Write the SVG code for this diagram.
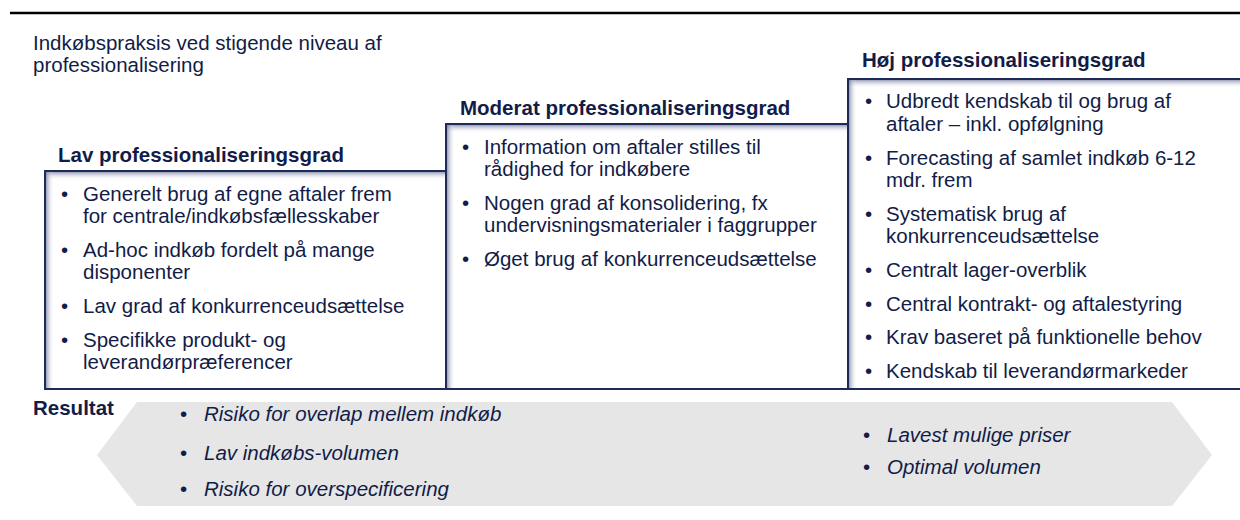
<svg xmlns="http://www.w3.org/2000/svg" width="1240" height="520" viewBox="0 0 1240 520">
<defs>
<linearGradient id="gTop" x1="0" y1="0" x2="0" y2="1">
<stop offset="0" stop-color="#5d6790" stop-opacity="0.8"/>
<stop offset="1" stop-color="#ffffff" stop-opacity="0"/>
</linearGradient>
<linearGradient id="gLeft" x1="0" y1="0" x2="1" y2="0">
<stop offset="0" stop-color="#5d6790" stop-opacity="0.8"/>
<stop offset="1" stop-color="#ffffff" stop-opacity="0"/>
</linearGradient>
</defs>
<style>
text{font-family:"Liberation Sans",Arial,sans-serif;fill:#121c48;font-size:20.5px}
.t{font-weight:bold}
.i{font-style:italic}
.box{fill:#ffffff}
.edge{fill:none;stroke:#1e2a58;stroke-width:2}
.st{fill:url(#gTop)}
.sl{fill:url(#gLeft)}
</style>
<line x1="10" y1="13" x2="1240" y2="13" stroke="#000" stroke-width="2.5"/>
<g id="header">
<text x="33" y="50">Indkøbspraksis ved stigende niveau af</text>
<text x="33" y="72">professionalisering</text>
</g>
<g id="lav">
<rect class="box" x="45" y="171" width="401" height="218"/>
<rect class="st" x="45" y="171" width="401" height="9"/>
<rect class="sl" x="45" y="171" width="9" height="218"/>
<rect class="edge" x="45" y="171" width="401" height="218"/>
<text class="t" x="58" y="162">Lav professionaliseringsgrad</text>
<text x="61" y="201">•</text><text x="83" y="201">Generelt brug af egne aftaler frem</text>
<text x="83" y="223">for centrale/indkøbsfællesskaber</text>
<text x="61" y="257">•</text><text x="83" y="257">Ad-hoc indkøb fordelt på mange</text>
<text x="83" y="279">disponenter</text>
<text x="61" y="313">•</text><text x="83" y="313">Lav grad af konkurrenceudsættelse</text>
<text x="61" y="347">•</text><text x="83" y="347">Specifikke produkt- og</text>
<text x="83" y="369">leverandørpræferencer</text>
</g>
<g id="moderat">
<rect class="box" x="446" y="124" width="402" height="265"/>
<rect class="st" x="446" y="124" width="402" height="9"/>
<rect class="sl" x="446" y="124" width="9" height="265"/>
<rect class="edge" x="446" y="124" width="402" height="265"/>
<text class="t" x="460" y="115">Moderat professionaliseringsgrad</text>
<text x="462" y="154">•</text><text x="484" y="154">Information om aftaler stilles til</text>
<text x="484" y="176">rådighed for indkøbere</text>
<text x="462" y="210">•</text><text x="484" y="210">Nogen grad af konsolidering, fx</text>
<text x="484" y="232">undervisningsmaterialer i faggrupper</text>
<text x="462" y="266">•</text><text x="484" y="266">Øget brug af konkurrenceudsættelse</text>
</g>
<g id="hoej">
<rect class="box" x="848" y="79" width="400" height="310"/>
<rect class="st" x="848" y="79" width="400" height="9"/>
<rect class="sl" x="848" y="79" width="9" height="310"/>
<rect class="edge" x="848" y="79" width="400" height="310"/>
<text class="t" x="862" y="67">Høj professionaliseringsgrad</text>
<text x="865" y="108">•</text><text x="886" y="108">Udbredt kendskab til og brug af</text>
<text x="886" y="131">aftaler – inkl. opfølgning</text>
<text x="865" y="165">•</text><text x="886" y="165">Forecasting af samlet indkøb 6-12</text>
<text x="886" y="187">mdr. frem</text>
<text x="865" y="221">•</text><text x="886" y="221">Systematisk brug af</text>
<text x="886" y="243">konkurrenceudsættelse</text>
<text x="865" y="277">•</text><text x="886" y="277">Centralt lager-overblik</text>
<text x="865" y="311">•</text><text x="886" y="311">Central kontrakt- og aftalestyring</text>
<text x="865" y="344">•</text><text x="886" y="344">Krav baseret på funktionelle behov</text>
<text x="865" y="378">•</text><text x="886" y="378">Kendskab til leverandørmarkeder</text>
</g>
<g id="resultat">
<polygon points="137,402 1172,402 1212,455 1172,506 137,506 97,455" fill="#e6e6e6"/>
<text class="t" x="33" y="415">Resultat</text>
<text x="180" y="421">•</text><text class="i" x="204" y="421">Risiko for overlap mellem indkøb</text>
<text x="180" y="460">•</text><text class="i" x="204" y="460">Lav indkøbs-volumen</text>
<text x="180" y="496">•</text><text class="i" x="204" y="496">Risiko for overspecificering</text>
<text x="863" y="442">•</text><text class="i" x="887" y="442">Lavest mulige priser</text>
<text x="863" y="474">•</text><text class="i" x="887" y="474">Optimal volumen</text>
</g>
</svg>
